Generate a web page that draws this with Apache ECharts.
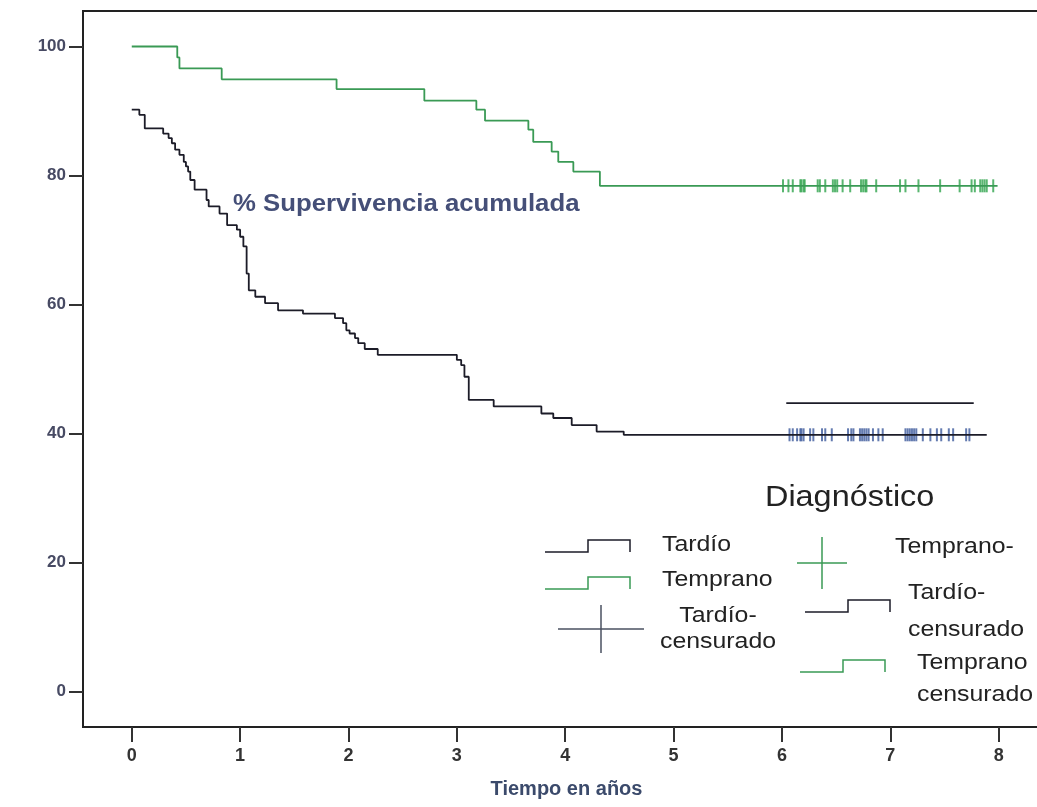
<!DOCTYPE html>
<html>
<head>
<meta charset="utf-8">
<title>Supervivencia acumulada</title>
<script src="https://cdn.jsdelivr.net/npm/echarts@6/dist/echarts.min.js"></script>
<style>
    html, body { margin: 0; padding: 0; background: #fff; }
    #main { width: 1037px; height: 807px; }
</style>
</head>
<body>
<div id="main"></div>
<script>
// tick labels
var xTicks = [0, 1, 2, 3, 4, 5, 6, 7, 8];
var yTicks = [0, 20, 40, 60, 80, 100];

// Kaplan-Meier curve, diagnóstico temprano: [años, % supervivencia]
var tempranoCurve = [
    [0, 100], [0.42, 98.3], [0.44, 96.6], [0.83, 94.9], [1.89, 93.4], [2.70, 91.6],
    [3.18, 90.2], [3.26, 88.5], [3.66, 87.1], [3.705, 85.2], [3.875, 83.7], [3.936, 82.1],
    [4.075, 80.6], [4.32, 78.4], [7.99, 78.4]
];
// Kaplan-Meier curve, diagnóstico tardío
var tardioCurve = [
    [0, 90.2], [0.07, 89.4], [0.12, 87.3], [0.29, 86.5], [0.34, 85.8], [0.37, 85.0],
    [0.40, 84.0], [0.44, 83.2], [0.48, 82.1], [0.50, 81.4], [0.52, 80.6], [0.54, 79.3],
    [0.58, 77.8], [0.69, 76.2], [0.71, 75.2], [0.81, 74.1], [0.88, 72.3], [0.97, 71.6],
    [1.00, 70.5], [1.03, 69.0], [1.06, 64.8], [1.08, 62.2], [1.14, 61.2], [1.23, 60.2],
    [1.35, 59.1], [1.58, 58.6], [1.875, 57.9], [1.95, 57.1], [1.98, 56.0], [2.01, 55.5],
    [2.06, 54.8], [2.09, 54.0], [2.15, 53.1], [2.27, 52.2], [3.00, 51.4], [3.04, 50.6],
    [3.07, 48.8], [3.11, 45.2], [3.34, 44.2], [3.78, 43.1], [3.89, 42.4], [4.06, 41.3],
    [4.29, 40.3], [4.54, 39.8], [7.89, 39.8]
];
// stray line drawn above the tardío censored marks
var tardioExtraLine = [[6.04, 44.7], [7.77, 44.7]];

// censored cases (años) and the level they sit on
var tempranoCensorLevel = 78.4;
var tempranoCensorT = [
    6.01, 6.06, 6.10, 6.17, 6.18, 6.20, 6.21, 6.33, 6.35, 6.40, 6.47, 6.49, 6.51,
    6.56, 6.63, 6.73, 6.75, 6.77, 6.78, 6.87, 7.09, 7.14, 7.26, 7.46, 7.64, 7.75,
    7.78, 7.83, 7.85, 7.87, 7.89, 7.95
];
var tardioCensorLevel = 39.8;
var tardioCensorT = [
    6.07, 6.10, 6.14, 6.17, 6.18, 6.20, 6.26, 6.29, 6.37, 6.40, 6.46, 6.61, 6.64,
    6.66, 6.72, 6.74, 6.76, 6.78, 6.80, 6.84, 6.89, 6.93, 7.14, 7.16, 7.18, 7.20,
    7.22, 7.24, 7.30, 7.37, 7.43, 7.47, 7.54, 7.58, 7.70, 7.73
];

var GREEN = '#3a9a55';
var GREEN_MARK = '#2fa44c';
var BLACK = '#1c1c28';
var BLUE = '#3d5a9c';
var FONT = "'Liberation Sans', Arial, sans-serif";

function censorPoints(times, level)
{
    var out = [];
    for (var i = 0; i < times.length; i++) {
        out.push([times[i], level]);
    }
    return out;
}

// step icon used in the hand-made legend
function stepIcon(x, y, color)
{
    return {
        type: 'polyline',
        shape: { points: [[x, y + 12], [x + 43, y + 12], [x + 43, y], [x + 85, y], [x + 85, y + 12]] },
        style: { stroke: color, lineWidth: 1.5, fill: null }
    };
}
function crossIcon(cx, cy, halfW, halfH, color)
{
    return [
        { type: 'line', shape: { x1: cx - halfW, y1: cy, x2: cx + halfW, y2: cy }, style: { stroke: color, lineWidth: 1.5 } },
        { type: 'line', shape: { x1: cx, y1: cy - halfH, x2: cx, y2: cy + halfH }, style: { stroke: color, lineWidth: 1.5 } }
    ];
}
// the source picture is stretched sideways, so the texts get a small scaleX
function legendText(x, y, text, align, lineHeight)
{
    return {
        type: 'text',
        x: x, y: y,
        scaleX: 1.13,
        style: {
            text: text, fill: '#222', font: '22px ' + FONT,
            align: align || 'left', verticalAlign: 'middle', lineHeight: lineHeight || 26
        }
    };
}

var myChart = echarts.init(document.getElementById('main'));

var legendGraphics = [
    {
        type: 'text', x: 765, y: 498, scaleX: 1.08,
        style: { text: 'Diagnóstico', fill: '#222', font: '30px ' + FONT, verticalAlign: 'middle' }
    },
    stepIcon(545, 540, BLACK),
    legendText(662, 545, 'Tardío'),
    stepIcon(545, 577, GREEN),
    legendText(662, 580, 'Temprano'),
    legendText(718, 629, 'Tardío-\ncensurado', 'center', 26),
    legendText(895, 547, 'Temprano-'),
    stepIcon(805, 600, BLACK),
    legendText(908, 611, 'Tardío-\ncensurado', 'left', 37),
    stepIcon(800, 660, GREEN),
    legendText(917, 679, 'Temprano\ncensurado', 'left', 32),
    {
        type: 'text', x: 233, y: 205, scaleX: 1.12,
        style: { text: '% Supervivencia acumulada', fill: '#454f78', font: 'bold 23px ' + FONT, verticalAlign: 'middle' }
    }
].concat(crossIcon(601, 629, 43, 24, '#4a5060')).concat(crossIcon(822, 563, 25, 26, GREEN));

myChart.setOption({
    animation: false,
    backgroundColor: '#fff',
    grid: {
        left: 83,
        top: 11,
        width: 959,
        bottom: 80,
        outerBoundsMode: 'none',
        containLabel: false,
        show: true,
        borderColor: '#222',
        borderWidth: 2
    },
    xAxis: {
        type: 'value',
        min: -0.45,
        max: 8.4,
        name: 'Tiempo en años',
        nameLocation: 'middle',
        nameGap: 52,
        nameTextStyle: { fontFamily: FONT, fontWeight: 'bold', fontSize: 20, color: '#3b4a6b', padding: [0, 0, 0, 8] },
        axisLine: { onZero: false, lineStyle: { color: '#222', width: 2 } },
        axisTick: { length: 15, customValues: xTicks, lineStyle: { color: '#333', width: 2 } },
        axisLabel: { customValues: xTicks, margin: 20, fontFamily: FONT, fontWeight: 'bold', fontSize: 18, color: '#333' },
        splitLine: { show: false }
    },
    yAxis: {
        type: 'value',
        min: -5.5,
        max: 105.5,
        axisLine: { onZero: false, lineStyle: { color: '#222', width: 2 } },
        axisTick: { length: 14, customValues: yTicks, lineStyle: { color: '#333', width: 2 } },
        axisLabel: { customValues: yTicks, margin: 17, fontFamily: FONT, fontWeight: 'bold', fontSize: 17, color: '#474a63' },
        splitLine: { show: false }
    },
    graphic: legendGraphics,
    series: [
        {
            name: 'Temprano',
            type: 'line',
            step: 'end',
            symbol: 'none',
            lineStyle: { color: GREEN, width: 1.8 },
            data: tempranoCurve
        },
        {
            name: 'Tardío',
            type: 'line',
            step: 'end',
            symbol: 'none',
            lineStyle: { color: BLACK, width: 1.8 },
            data: tardioCurve
        },
        {
            name: 'Tardío-censurado',
            type: 'line',
            symbol: 'none',
            lineStyle: { color: BLACK, width: 1.8 },
            data: tardioExtraLine
        },
        {
            name: 'Temprano-',
            type: 'scatter',
            symbol: 'rect',
            symbolSize: [2, 13],
            itemStyle: { color: GREEN_MARK },
            data: censorPoints(tempranoCensorT, tempranoCensorLevel)
        },
        {
            name: 'Tardío-censurado marcas',
            type: 'scatter',
            symbol: 'rect',
            symbolSize: [2, 13],
            itemStyle: { color: BLUE },
            data: censorPoints(tardioCensorT, tardioCensorLevel)
        }
    ]
});
</script>
</body>
</html>
